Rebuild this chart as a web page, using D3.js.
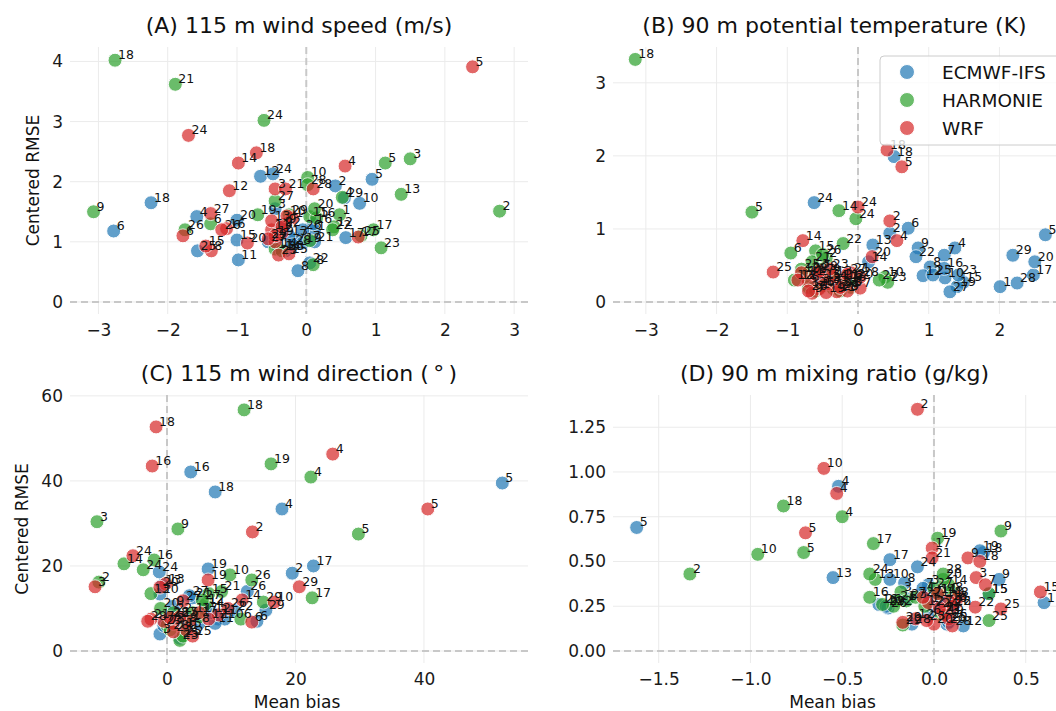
<!DOCTYPE html>
<html>
<head>
<meta charset="utf-8">
<script src="https://cdn.jsdelivr.net/npm/d3@7"></script>
<style>
  body { margin: 0; background: #fff; }
  svg text { font-family: "DejaVu Sans", sans-serif; }
</style>
</head>
<body>
<svg id="chart" width="1056" height="711"></svg>
<script>
// [case, mean bias, centered RMSE]
var wsEcmwf = [[1,0.12,1.18],[2,0.42,1.93],[3,-0.45,1.55],[4,-1.58,1.42],[5,0.95,2.04],[6,-2.78,1.18],[7,-0.15,1.05],[8,-0.12,0.52],[9,-0.35,1.25],[10,0.77,1.64],[11,-0.98,0.70],[12,-0.66,2.09],[13,-0.25,1.10],[14,-0.40,0.90],[15,-1.0,1.03],[16,0.10,1.30],[17,0.57,1.07],[18,-2.24,1.65],[19,-0.05,0.98],[20,-1.0,1.36],[21,0.12,1.00],[22,0.05,0.65],[23,-0.30,0.85],[24,-0.48,2.13],[25,-1.57,0.85],[26,-0.05,1.20],[27,-0.55,1.00],[28,-0.20,0.95],[29,0.55,1.73]]
var wsHarmonie = [[1,0.48,1.45],[2,2.79,1.51],[3,1.50,2.38],[4,0.52,1.74],[5,1.14,2.31],[6,-1.38,1.30],[7,0.05,1.02],[8,0.10,0.62],[9,-3.07,1.50],[10,0.02,2.07],[11,-0.45,0.88],[12,0.40,1.25],[13,1.37,1.79],[14,-0.35,0.85],[15,0.05,1.42],[16,0.15,1.40],[17,0.97,1.20],[18,-2.76,4.02],[19,-0.70,1.45],[20,0.12,1.55],[21,-1.89,3.62],[22,0.38,1.20],[23,1.08,0.90],[24,-0.61,3.02],[25,0.79,1.10],[26,-1.75,1.20],[27,-0.45,1.68],[28,0.02,1.95],[29,-0.25,1.45]]
var wsWrf = [[1,-0.20,1.40],[2,-0.35,1.15],[3,-0.45,1.88],[4,0.56,2.26],[5,2.40,3.91],[6,-1.78,1.10],[7,-0.45,1.0],[8,-1.37,0.85],[9,-0.30,1.30],[10,-0.28,1.43],[11,-0.50,1.20],[12,-1.11,1.85],[13,-0.50,1.35],[14,-0.98,2.31],[15,-1.45,0.93],[16,-1.15,1.22],[17,0.75,1.08],[18,-0.72,2.48],[19,-0.45,1.10],[20,-0.85,0.98],[21,-0.30,1.88],[22,-0.35,1.25],[23,-0.40,0.78],[24,-1.70,2.77],[25,-0.25,0.80],[26,-1.22,1.20],[27,-1.38,1.47],[28,0.10,1.88],[29,-0.55,1.05]]

var thEcmwf = [[1,2.01,0.21],[2,0.45,0.94],[3,-0.55,0.25],[4,1.37,0.74],[5,2.65,0.92],[6,0.71,1.01],[7,1.22,0.64],[8,1.02,0.48],[9,0.85,0.74],[10,1.23,0.33],[11,-0.25,0.30],[12,0.92,0.36],[13,0.21,0.78],[14,0.15,0.55],[15,1.49,0.27],[16,1.22,0.46],[17,2.48,0.37],[18,0.51,1.99],[19,1.40,0.21],[20,2.50,0.55],[21,-0.40,0.28],[22,0.82,0.62],[23,1.42,0.37],[24,-0.62,1.36],[25,1.06,0.37],[26,-0.60,0.20],[27,1.30,0.14],[28,2.25,0.26],[29,2.19,0.64]]
var thHarmonie = [[1,-0.70,0.20],[2,-0.45,0.60],[3,-0.55,0.45],[4,-0.30,0.30],[5,-1.50,1.23],[6,-0.95,0.67],[7,-0.60,0.15],[8,-0.10,0.20],[9,-0.40,0.38],[10,0.38,0.34],[11,-0.75,0.35],[12,-0.90,0.30],[13,-0.20,0.22],[14,-0.27,1.25],[15,-0.60,0.70],[16,-0.15,0.28],[17,-0.50,0.22],[18,-3.15,3.32],[19,-0.35,0.18],[20,-0.05,0.32],[21,-0.65,0.55],[22,-0.21,0.80],[23,0.42,0.27],[24,-0.03,1.14],[25,-0.80,0.45],[26,-0.50,0.65],[27,0.30,0.30],[28,-0.70,0.40],[29,-0.25,0.15]]
var thWrf = [[1,-0.55,0.18],[2,0.45,1.11],[3,-0.40,0.25],[4,0.55,0.84],[5,0.62,1.85],[6,-0.70,0.28],[7,0.03,0.19],[8,-0.15,0.15],[9,-0.65,0.12],[10,-0.80,0.40],[11,-0.30,0.14],[12,-0.85,0.30],[13,-0.35,0.35],[14,-0.78,0.84],[15,-0.50,0.30],[16,-0.20,0.30],[17,-0.60,0.38],[18,0.41,2.08],[19,-0.45,0.13],[20,0.20,0.62],[21,-0.10,0.40],[22,-0.25,0.20],[23,-0.40,0.45],[24,0.0,1.30],[25,-1.20,0.41],[26,-0.70,0.15],[27,-0.15,0.38],[28,0.03,0.34],[29,-0.55,0.42]]

var wdEcmwf = [[1,8.0,7.5],[2,19.5,18.3],[3,-1.1,4.0],[4,17.9,33.4],[5,52.2,39.5],[6,14.0,7.0],[7,3.0,8.0],[8,5.0,6.5],[9,1.0,10.5],[10,9.0,7.5],[11,7.5,6.5],[12,7.0,9.0],[13,-0.7,15.5],[14,6.0,10.0],[15,2.5,5.5],[16,3.7,42.1],[17,22.8,20.0],[18,7.5,37.4],[19,6.4,19.3],[20,-1.1,13.4],[21,4.0,12.5],[22,10.5,9.5],[23,-0.5,6.0],[24,-1.2,18.6],[25,2.0,3.0],[26,12.5,14.0],[27,3.5,13.0],[28,0.5,8.0],[29,15.4,9.6]]
var wdHarmonie = [[1,5.0,8.0],[2,-10.6,16.2],[3,-10.9,30.4],[4,22.4,40.9],[5,29.8,27.5],[6,11.5,7.5],[7,0.0,6.0],[8,3.0,6.5],[9,1.7,28.7],[10,9.8,17.9],[11,4.0,9.0],[12,6.0,11.0],[13,-2.5,13.5],[14,-6.7,20.5],[15,6.5,13.5],[16,-2.0,21.4],[17,22.6,12.5],[18,12.0,56.7],[19,16.2,44.0],[20,-1.0,10.0],[21,8.5,14.0],[22,1.0,9.0],[23,2.0,2.5],[24,-3.7,19.1],[25,2.5,3.5],[26,13.2,16.7],[27,5.5,12.0],[28,0.5,5.0],[29,15.0,11.5]]
var wdWrf = [[1,3.5,7.0],[2,13.3,28.0],[3,-11.2,15.1],[4,25.8,46.3],[5,40.6,33.4],[6,13.2,6.8],[7,-0.5,7.0],[8,1.0,6.5],[9,3.0,5.0],[10,16.7,11.5],[11,8.0,8.5],[12,6.5,7.5],[13,-0.2,15.8],[14,11.7,12.0],[15,2.0,8.0],[16,-2.3,43.5],[17,5.0,9.0],[18,-1.7,52.7],[19,6.4,16.7],[20,-1.1,15.0],[21,-2.5,7.5],[22,0.5,7.8],[23,1.0,4.5],[24,-5.3,22.4],[25,4.0,3.5],[26,9.5,10.0],[27,2.5,11.8],[28,-3.0,7.0],[29,20.6,15.1]]

var mrEcmwf = [[1,-0.05,0.33],[2,0.05,0.22],[3,-0.03,0.37],[4,-0.52,0.92],[5,-1.62,0.69],[6,-0.02,0.20],[7,-0.06,0.35],[8,-0.16,0.38],[9,0.355,0.40],[10,-0.24,0.40],[11,0.60,0.27],[12,0.16,0.14],[13,-0.55,0.41],[14,0.05,0.30],[15,0.30,0.32],[16,-0.30,0.26],[17,-0.24,0.51],[18,0.27,0.55],[19,0.25,0.56],[20,0.07,0.15],[21,-0.02,0.30],[22,0.10,0.25],[23,-0.14,0.29],[24,-0.09,0.47],[25,0.08,0.16],[26,-0.25,0.24],[27,0.00,0.25],[28,-0.12,0.15],[29,-0.26,0.25]]
var mrHarmonie = [[1,0.10,0.30],[2,-1.33,0.43],[3,-0.18,0.33],[4,-0.50,0.75],[5,-0.71,0.55],[6,-0.15,0.28],[7,-0.10,0.30],[8,0.10,0.33],[9,0.365,0.67],[10,-0.96,0.54],[11,0.02,0.32],[12,-0.05,0.25],[13,-0.32,0.40],[14,0.08,0.37],[15,0.30,0.32],[16,-0.35,0.30],[17,-0.33,0.60],[18,-0.82,0.81],[19,0.02,0.63],[20,0.05,0.40],[21,-0.20,0.28],[22,-0.22,0.25],[23,0.04,0.20],[24,-0.35,0.43],[25,0.30,0.17],[26,-0.28,0.26],[27,0.00,0.35],[28,0.05,0.43],[29,-0.17,0.145]]
var mrWrf = [[1,-0.03,0.27],[2,-0.09,1.35],[3,0.23,0.41],[4,-0.53,0.88],[5,-0.70,0.66],[6,0.12,0.27],[7,0.28,0.37],[8,0.13,0.30],[9,0.185,0.52],[10,-0.60,1.02],[11,0.05,0.22],[12,-0.10,0.18],[13,0.08,0.28],[14,0.02,0.32],[15,0.58,0.33],[16,0.10,0.25],[17,-0.01,0.575],[18,0.25,0.50],[19,0.06,0.20],[20,0.00,0.15],[21,-0.01,0.52],[22,0.225,0.245],[23,-0.04,0.17],[24,0.03,0.24],[25,0.365,0.235],[26,0.08,0.18],[27,-0.06,0.30],[28,0.10,0.14],[29,-0.17,0.16]]

var models = ['ECMWF-IFS', 'HARMONIE', 'WRF']
var colors = ['#1f77b4', '#2ca02c', '#d62728']

var panels = [
  {title: '(A) 115 m wind speed (m/s)', data: [wsEcmwf, wsHarmonie, wsWrf],
   xd: [-3.41, 3.2], yd: [-0.2, 4.24], xt: [-3, -2, -1, 0, 1, 2, 3], yt: [0, 1, 2, 3, 4],
   xf: 'd', yf: 'd', box: [70, 528, 47, 314], ylab: 33, xlab: false},
  {title: '(B) 90 m potential temperature (K)', data: [thEcmwf, thHarmonie, thWrf],
   xd: [-3.465, 2.8], yd: [-0.164, 3.49], xt: [-3, -2, -1, 0, 1, 2], yt: [0, 1, 2, 3],
   xf: 'd', yf: 'd', box: [613, 1056, 47, 314], ylab: null, xlab: false, legend: true},
  {title: '(C) 115 m wind direction (\u2009\u00b0\u2009)', data: [wdEcmwf, wdHarmonie, wdWrf],
   xd: [-15.1, 56.2], yd: [-2.82, 60.2], xt: [0, 20, 40], yt: [0, 20, 40, 60],
   xf: 'd', yf: 'd', box: [70, 528, 395, 663], ylab: 22, xlab: true},
  {title: '(D) 90 m mixing ratio (g/kg)', data: [mrEcmwf, mrHarmonie, mrWrf],
   xd: [-1.749, 0.665], yd: [-0.067, 1.43], xt: [-1.5, -1.0, -0.5, 0, 0.5], yt: [0, 0.25, 0.5, 0.75, 1.0, 1.25],
   xf: '.1f', yf: '.2f', box: [613, 1056, 395, 663], ylab: null, xlab: true}
]

var svg = d3.select('#chart')

panels.forEach(function(p) {
  var x = d3.scaleLinear().domain(p.xd).range([p.box[0], p.box[1]])
  var y = d3.scaleLinear().domain(p.yd).range([p.box[3], p.box[2]])
  var g = svg.append('g')

  // grid
  g.append('g').selectAll('line.vg').data(p.xt).enter().append('line')
    .attr('x1', function(d) { return x(d) }).attr('x2', function(d) { return x(d) })
    .attr('y1', p.box[2]).attr('y2', p.box[3])
    .attr('stroke', '#ebebeb').attr('stroke-width', 1)
  g.append('g').selectAll('line.hg').data(p.yt).enter().append('line')
    .attr('y1', function(d) { return y(d) }).attr('y2', function(d) { return y(d) })
    .attr('x1', p.box[0]).attr('x2', p.box[1])
    .attr('stroke', '#ebebeb').attr('stroke-width', 1)

  // zero lines
  g.append('line').attr('x1', x(0)).attr('x2', x(0)).attr('y1', p.box[2]).attr('y2', p.box[3])
    .attr('stroke', '#c8c8c8').attr('stroke-width', 2).attr('stroke-dasharray', '7,4')
  g.append('line').attr('y1', y(0)).attr('y2', y(0)).attr('x1', p.box[0]).attr('x2', p.box[1])
    .attr('stroke', '#c8c8c8').attr('stroke-width', 2).attr('stroke-dasharray', '7,4')

  // axes
  var ax = g.append('g').attr('transform', 'translate(0,' + p.box[3] + ')')
    .call(d3.axisBottom(x).tickValues(p.xt).tickSize(0).tickPadding(10).tickFormat(d3.format(p.xf)))
  var ay = g.append('g').attr('transform', 'translate(' + p.box[0] + ',0)')
    .call(d3.axisLeft(y).tickValues(p.yt).tickSize(0).tickPadding(7).tickFormat(d3.format(p.yf)))
  ;[ax, ay].forEach(function(a) {
    a.select('.domain').remove()
    a.selectAll('text').attr('font-size', 17).attr('fill', '#1a1a1a')
      .style('font-family', '"DejaVu Sans", sans-serif')
  })

  // points
  p.data.forEach(function(series, i) {
    g.append('g').selectAll('circle').data(series).enter().append('circle')
      .attr('cx', function(d) { return x(d[1]) })
      .attr('cy', function(d) { return y(d[2]) })
      .attr('r', 7)
      .attr('fill', colors[i])
      .attr('stroke', '#fff').attr('stroke-width', 1)
      .attr('opacity', 0.7)
  })
  // case labels on top
  p.data.forEach(function(series) {
    g.append('g').selectAll('text').data(series).enter().append('text')
      .attr('x', function(d) { return x(d[1]) + 3 })
      .attr('y', function(d) { return y(d[2]) - 1 })
      .attr('font-size', 12.5).attr('fill', '#111')
      .text(function(d) { return d[0] })
  })

  // title
  g.append('text').attr('x', (p.box[0] + p.box[1]) / 2).attr('y', 33)
    .attr('transform', 'translate(0,' + (p.box[2] - 47) + ')')
    .attr('text-anchor', 'middle').attr('font-size', 22).attr('fill', '#111')
    .text(p.title)

  if (p.ylab !== null) {
    var cy = (p.box[2] + p.box[3]) / 2
    g.append('text').attr('transform', 'translate(' + p.ylab + ',' + cy + ') rotate(-90)')
      .attr('text-anchor', 'middle').attr('dy', '0.35em').attr('font-size', 17).attr('fill', '#111')
      .text('Centered RMSE')
  }
  if (p.xlab) {
    g.append('text').attr('x', (p.box[0] + p.box[1]) / 2 - 2).attr('y', 708)
      .attr('text-anchor', 'middle').attr('font-size', 17).attr('fill', '#111')
      .text('Mean bias')
  }

  if (p.legend) {
    var lg = g.append('g')
    lg.append('rect').attr('x', 880).attr('y', 56).attr('width', 190).attr('height', 89)
      .attr('rx', 4).attr('fill', '#fff').attr('fill-opacity', 0.8)
      .attr('stroke', '#cccccc').attr('stroke-width', 1)
    models.forEach(function(m, i) {
      var ly = 72 + i * 28
      lg.append('circle').attr('cx', 907).attr('cy', ly).attr('r', 7.5)
        .attr('fill', colors[i]).attr('opacity', 0.7).attr('stroke', '#fff')
      lg.append('text').attr('x', 942).attr('y', ly).attr('dy', '0.36em')
        .attr('font-size', 18.5).attr('fill', '#111').text(m)
    })
  }
})
</script>
</body>
</html>
